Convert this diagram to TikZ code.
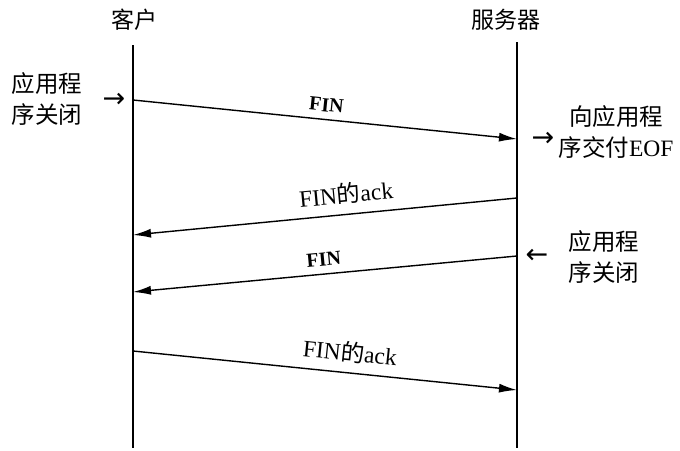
\documentclass[tikz,border=0pt]{standalone}
\usepackage{fontspec}
\setmainfont{Liberation Serif}
\newfontfamily\cjk{Noto Sans CJK SC}
\newfontfamily\sym{DejaVu Sans}
\usetikzlibrary{arrows.meta}
\newcommand{\finack}{FIN{\cjk 的}ack}

\begin{document}
\begin{tikzpicture}[x=1pt,y=-1pt]
  \tikzset{
    party/.style={font=\cjk\fontsize{23}{26}\selectfont},
    note/.style={font=\cjk\fontsize{23.5}{31}\selectfont,align=center},
    pointer/.style={font=\sym\fontsize{27}{30}\selectfont,inner sep=0pt},
    life/.style={line width=1.3pt},
    msg/.style={line width=1.4pt,-{Latex[length=18pt,width=9pt]}},
    fin/.style={font=\bfseries\fontsize{20}{24}\selectfont,sloped,above=4pt},
    ack/.style={font=\fontsize{23.5}{26}\selectfont,sloped,above=6pt}
  }
  \useasboundingbox (0,0) rectangle (680,450);
  \node[party] (client) at (134,20) {客户};
  \node[party] (server) at (506,20) {服务器};
  \coordinate (ctop) at (133,45);
  \coordinate (cbot) at (133,448);
  \coordinate (stop) at (517,42);
  \coordinate (sbot) at (517,448);
  \draw[life] (ctop) -- (cbot);
  \draw[life] (stop) -- (sbot);
  \coordinate (c1) at (133,100);
  \coordinate (s1) at (517,139);
  \coordinate (s2) at (517,198);
  \coordinate (c2) at (133,235);
  \coordinate (s3) at (517,256);
  \coordinate (c3) at (133,292);
  \coordinate (c4) at (133,351);
  \coordinate (s4) at (517,390);
  \draw[msg] (c1) -- node[fin] (fin1) {FIN} (s1);
  \draw[msg] (s2) -- node[ack,pos=0.44] (ack1) {\finack} (c2);
  \draw[msg] (s3) -- node[fin] (fin2) {FIN} (c3);
  \draw[msg] (c4) -- node[ack,pos=0.56] (ack2) {\finack} (s4);
  \node[note] (cclose) at (47,99) {应用程\\序关闭};
  \node[pointer] (cin) at (114,100) {→};
  \node[note] (deliver) at (616,132) {向应用程\\序交付{\rmfamily EOF}};
  \node[pointer] (sout) at (543,139) {→};
  \node[pointer] (sin) at (537,256) {←};
  \node[note] (sclose) at (604,257) {应用程\\序关闭};
\end{tikzpicture}
\end{document}
